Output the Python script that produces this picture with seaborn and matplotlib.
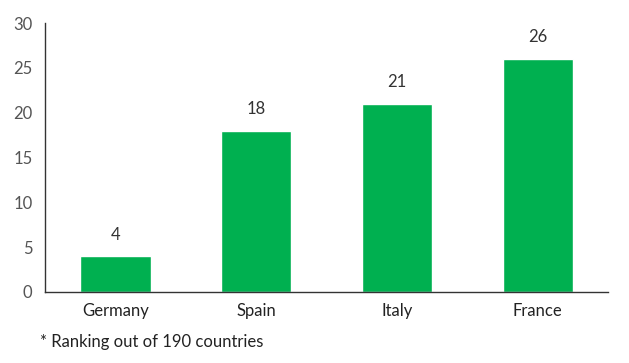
import matplotlib
matplotlib.use("Agg")
import matplotlib.pyplot as plt
import seaborn as sns
import pandas as pd
import numpy as np

countries = ["Germany", "Spain", "Italy", "France"]
ranks = [4, 18, 21, 26]
y_ticks = [0, 5, 10, 15, 20, 25, 30]
footnote = "* Ranking out of 190 countries"

sns.set_style("white")
plt.rcParams['font.family'] = ['Lato', 'DejaVu Sans']

df = pd.DataFrame({'country': countries, 'rank': ranks})

fig = plt.figure(figsize=(6.29, 3.63), dpi=100)
ax = fig.add_axes([0.0715, 0.1956, 0.8955, 0.741])

sns.barplot(data=df, x='country', y='rank', color='#00b050', width=0.5,
            saturation=1, ax=ax)

for i, v in enumerate(ranks):
    ax.text(i, v + 1.5, str(v), ha='center', va='bottom', fontsize=12, color='#333333')

ax.set_ylim(0, 30)
ax.set_xlim(-0.5, len(countries) - 0.5)
ax.set_yticks(y_ticks)
ax.set_xlabel('')
ax.set_ylabel('')

# tick marks between categories
ax.set_xticks(np.arange(-0.5, len(countries), 1.0), minor=True)
ax.tick_params(axis='x', which='major', length=0, pad=8, labelsize=12, labelcolor='#222222')
ax.tick_params(axis='x', which='minor', length=5, color='#333333', direction='out')
ax.tick_params(axis='y', length=5, color='#333333', labelsize=12, labelcolor='#555555', pad=4)

sns.despine(ax=ax)
for s in ['left', 'bottom']:
    ax.spines[s].set_color('#333333')
    ax.spines[s].set_linewidth(1)

fig.text(40 / 629, 1 - 342 / 363, footnote, ha='left', va='center', fontsize=12, color='#222222')

fig.savefig('out.png', dpi=100)
